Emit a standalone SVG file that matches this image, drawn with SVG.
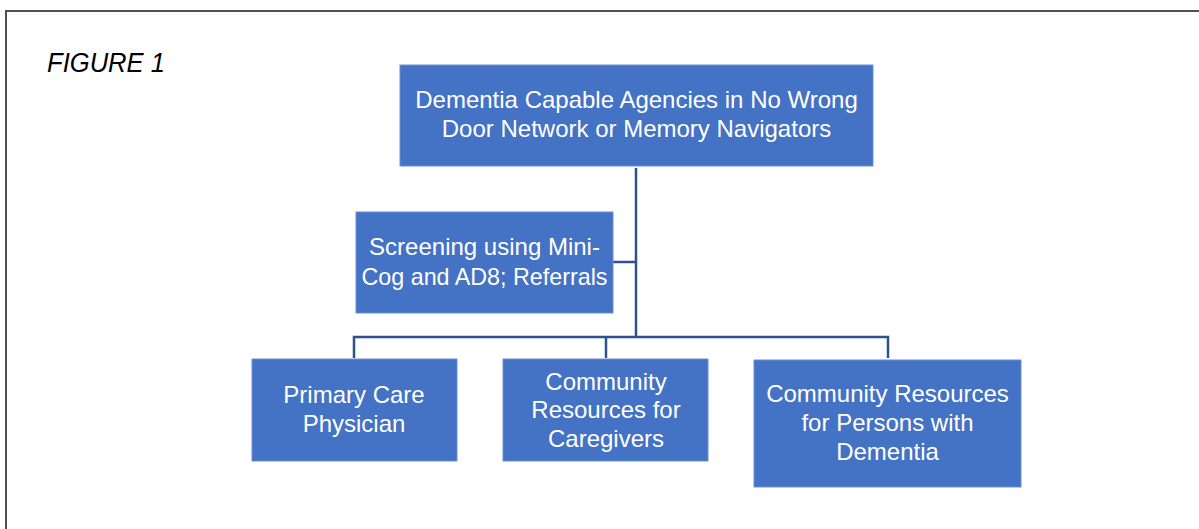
<svg xmlns="http://www.w3.org/2000/svg" width="1199" height="529" viewBox="0 0 1199 529">
<style>
.box{fill:#4472C4;stroke:#6A8FD3;stroke-width:1}
.lbl{font-family:"Liberation Sans",Arial,sans-serif;font-size:24px;fill:#FFFFFF;text-anchor:middle}
.conn{fill:none;stroke:#2F528F;stroke-width:2.5}
</style>
<rect x="0" y="0" width="1199" height="529" fill="#FFFFFF"/>
<path d="M6,529 V11 H1199" fill="none" stroke="#505050" stroke-width="2"/>
<text x="47" y="72" font-family="'Liberation Sans',Arial,sans-serif" font-size="27" font-style="italic" fill="#000000" textLength="118" lengthAdjust="spacingAndGlyphs">FIGURE 1</text>
<g id="connectors">
<path class="conn" d="M636,168 V337"/>
<path class="conn" d="M613,262 H636"/>
<path class="conn" d="M354,358 V337 H888 V358"/>
<path class="conn" d="M606,337 V358"/>
</g>
<g id="node-top">
<rect class="box" x="400" y="65" width="473" height="101"/>
<text class="lbl" x="636.5" y="108">Dementia Capable Agencies in No Wrong</text>
<text class="lbl" x="636.5" y="137">Door Network or Memory Navigators</text>
</g>
<g id="node-screening">
<rect class="box" x="356" y="212" width="257" height="101"/>
<text class="lbl" x="484.5" y="255">Screening using Mini-</text>
<text class="lbl" x="484.5" y="285" textLength="246" lengthAdjust="spacingAndGlyphs">Cog and AD8; Referrals</text>
</g>
<g id="node-pcp">
<rect class="box" x="252" y="359" width="205" height="102"/>
<text class="lbl" x="354" y="403">Primary Care</text>
<text class="lbl" x="354" y="432">Physician</text>
</g>
<g id="node-caregivers">
<rect class="box" x="503" y="359" width="205" height="102"/>
<text class="lbl" x="606" y="390">Community</text>
<text class="lbl" x="606" y="418">Resources for</text>
<text class="lbl" x="606" y="447">Caregivers</text>
</g>
<g id="node-persons">
<rect class="box" x="754" y="360" width="267" height="127"/>
<text class="lbl" x="887.5" y="402">Community Resources</text>
<text class="lbl" x="887.5" y="431">for Persons with</text>
<text class="lbl" x="887.5" y="460">Dementia</text>
</g>
</svg>
